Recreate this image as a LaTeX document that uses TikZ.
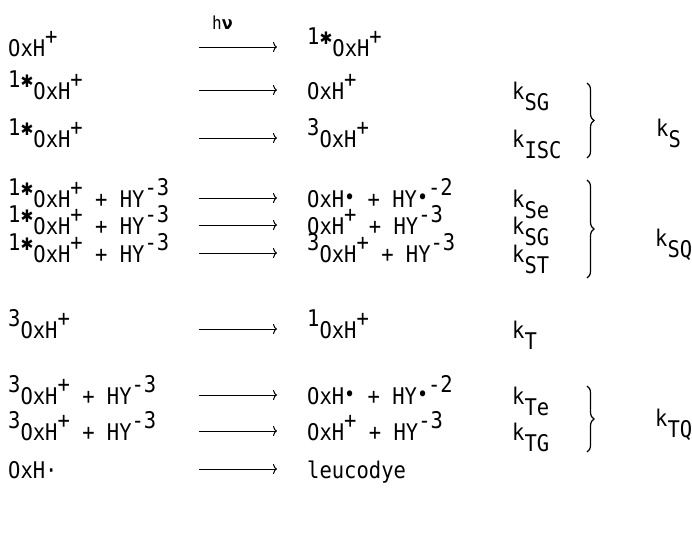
\documentclass[tikz,border=0pt]{standalone}
\usepackage{fontspec}
\setmainfont{DejaVu Sans Mono}
\newfontfamily\grk{DejaVu Sans}
\usetikzlibrary{arrows.meta,decorations.pathreplacing}
\newcommand\up[1]{\raisebox{0.5em}{#1}}
\newcommand\dn[1]{\raisebox{-0.5em}{#1}}
\newcommand\st{{\grk\scalebox{0.75}{✱}}}
\newcommand\rd{\raisebox{0.1em}{\scalebox{0.9}{•}}}
\newcommand\tx[1]{\scalebox{1}[1.12]{#1}}
\begin{document}
\begin{tikzpicture}[x=1pt,y=1pt,
  txt/.style={anchor=base west, inner sep=0pt, font=\fontsize{20.5}{24}\selectfont},
  arr/.style={-{To[length=4pt,width=10pt]}, line width=1pt},
  br/.style={decorate, decoration={brace, amplitude=7pt}, line width=1.2pt}]
\useasboundingbox (0,0) rectangle (692,-536);
% arrow end points
\foreach \n/\b in {1/56,2/99,3/147,4/207,5/234,6/262,7/338,8/404,9/440,10/478}{
  \coordinate (s\n) at (199,-\b+9);
  \coordinate (e\n) at (277,-\b+9);
}
% reactants
\node[txt] (r1) at (8,-56) {\tx{OxH\up{+}}};
\node[txt] (r2) at (8,-99) {\tx{\up{1\st}OxH\up{+}}};
\node[txt] (r3) at (8,-147) {\tx{\up{1\st}OxH\up{+}}};
\node[txt] (r4) at (8,-207) {\tx{\up{1\st}OxH\up{+} + HY\up{-3}}};
\node[txt] (r5) at (8,-234) {\tx{\up{1\st}OxH\up{+} + HY\up{-3}}};
\node[txt] (r6) at (8,-262) {\tx{\up{1\st}OxH\up{+} + HY\up{-3}}};
\node[txt] (r7) at (8,-338) {\tx{\up{3}OxH\up{+}}};
\node[txt] (r8) at (8,-404) {\tx{\up{3}OxH\up{+} + HY\up{-3}}};
\node[txt] (r9) at (8,-440) {\tx{\up{3}OxH\up{+} + HY\up{-3}}};
\node[txt] (r10) at (8,-478) {\tx{OxH·}};
% products
\node[txt] (p1) at (307,-56) {\tx{\up{1\st}OxH\up{+}}};
\node[txt] (p2) at (307,-99) {\tx{OxH\up{+}}};
\node[txt] (p3) at (307,-147) {\tx{\up{3}OxH\up{+}}};
\node[txt] (p4) at (307,-207) {\tx{OxH\rd{} + HY\rd\up{-2}}};
\node[txt] (p5) at (307,-234) {\tx{OxH\up{+} + HY\up{-3}}};
\node[txt] (p6) at (307,-262) {\tx{\up{3}OxH\up{+} + HY\up{-3}}};
\node[txt] (p7) at (307,-338) {\tx{\up{1}OxH\up{+}}};
\node[txt] (p8) at (307,-404) {\tx{OxH\rd{} + HY\rd\up{-2}}};
\node[txt] (p9) at (307,-440) {\tx{OxH\up{+} + HY\up{-3}}};
\node[txt] (p10) at (307,-478) {\tx{leucodye}};
% arrows
\foreach \n in {1,...,10}{\draw[arr] (s\n) -- (e\n);}
\node[anchor=base west, inner sep=0pt, font=\fontsize{16}{18}\selectfont] (hv) at (212,-29) {\tx{h{\grk\bfseries ν}}};
% rate constants
\node[txt] (k2) at (512,-99) {\tx{k\dn{SG}}};
\node[txt] (k3) at (512,-147) {\tx{k\dn{ISC}}};
\node[txt] (k4) at (512,-207) {\tx{k\dn{Se}}};
\node[txt] (k5) at (512,-234) {\tx{k\dn{SG}}};
\node[txt] (k6) at (512,-262) {\tx{k\dn{ST}}};
\node[txt] (k7) at (512,-338) {\tx{k\dn{T}}};
\node[txt] (k8) at (512,-404) {\tx{k\dn{Te}}};
\node[txt] (k9) at (512,-440) {\tx{k\dn{TG}}};
% braces
\coordinate (b1t) at (587,-83);  \coordinate (b1b) at (587,-158);
\coordinate (b2t) at (587,-180); \coordinate (b2b) at (587,-278);
\coordinate (b3t) at (587,-386); \coordinate (b3b) at (587,-452);
\draw[br] (b1t) -- (b1b);
\draw[br] (b2t) -- (b2b);
\draw[br] (b3t) -- (b3b);
\node[txt] (kS) at (656,-136) {\tx{k\dn{S}}};
\node[txt] (kSQ) at (655,-246) {\tx{k\dn{SQ}}};
\node[txt] (kTQ) at (655,-426) {\tx{k\dn{TQ}}};
\end{tikzpicture}
\end{document}
